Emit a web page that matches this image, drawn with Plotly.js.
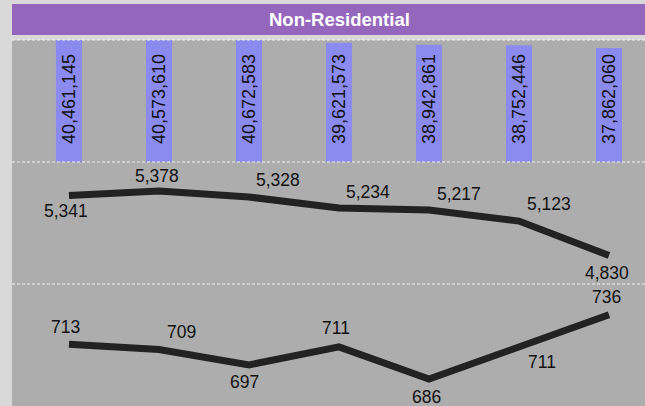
<!DOCTYPE html>
<html><head><meta charset="utf-8">
<script src="https://cdn.plot.ly/plotly-3.0.1.min.js"></script>
<style>html,body{margin:0;padding:0;background:#d9d9d9;}#chart{width:645px;height:406px;}</style>
</head><body><div id="chart"></div>
<script>
// ---- data ----
const categories = ['P1','P2','P3','P4','P5','P6','P7'];
const barValues = [40461145,40573610,40672583,39621573,38942861,38752446,37862060];
const midValues = [5341,5378,5328,5234,5217,5123,4830];
const lowValues = [713,709,697,711,686,711,736];
const chartTitle = 'Non-Residential';

// ---- label offsets (style) ----
const midShift = [[-3,-16],[-2,15],[29,17],[29,16],[30,16.5],[30,17],[-2,-18]];
const lowShift = [[-3,17.5],[23,17.5],[-4,-17],[-3,18.5],[-2,-18],[23,-15.5],[-3,18]];

const fmt = v => v.toLocaleString('en-US');
const FONT = 'Liberation Sans, Arial, sans-serif';

const traces = [
  {type:'bar', x:categories, y:barValues, xaxis:'x', yaxis:'y3',
   marker:{color:'#8b8bef'}, width:0.29, hoverinfo:'skip'},
  {type:'scatter', mode:'lines', x:categories, y:midValues, xaxis:'x', yaxis:'y2',
   line:{color:'#222222', width:7}, hoverinfo:'skip'},
  {type:'scatter', mode:'lines', x:categories, y:lowValues, xaxis:'x', yaxis:'y',
   line:{color:'#222222', width:7}, hoverinfo:'skip'}
];

const annotations = [];
categories.forEach((c,i)=>{
  annotations.push({x:c, xref:'x', y:0.516, yref:'y3 domain', text:fmt(barValues[i]),
    textangle:-90, showarrow:false, xanchor:'center', yanchor:'middle',
    font:{family:FONT, size:18, color:'#111'}});
  annotations.push({x:c, xref:'x', y:midValues[i], yref:'y2', text:fmt(midValues[i]),
    showarrow:false, xanchor:'center', yanchor:'middle', xshift:midShift[i][0], yshift:midShift[i][1],
    font:{family:FONT, size:17.5, color:'#111'}});
  annotations.push({x:c, xref:'x', y:lowValues[i], yref:'y', text:fmt(lowValues[i]),
    showarrow:false, xanchor:'center', yanchor:'middle', xshift:lowShift[i][0], yshift:lowShift[i][1],
    font:{family:FONT, size:17.5, color:'#111'}});
});
annotations.push({x:0.5166, xref:'paper', y:1.056, yref:'paper', text:'<b>'+chartTitle+'</b>',
  showarrow:false, xanchor:'center', yanchor:'middle', font:{family:FONT, size:18.5, color:'#ffffff'}});

const dash = {color:'#f2f2f2', width:1, dash:'3px,2px'};
const shapes = [
  {type:'rect', xref:'paper', yref:'paper', x0:0, x1:1, y0:1.0137, y1:1.0984,
   fillcolor:'#9467bd', line:{width:0}, layer:'above'},
  {type:'line', xref:'paper', yref:'paper', x0:0, x1:1, y0:1, y1:1, line:dash, layer:'above'},
  {type:'line', xref:'paper', yref:'paper', x0:0, x1:1, y0:2/3, y1:2/3, line:dash, layer:'above'},
  {type:'line', xref:'paper', yref:'paper', x0:0, x1:1, y0:1/3, y1:1/3, line:dash, layer:'above'}
];

const hiddenY = {showgrid:false, zeroline:false, showticklabels:false, ticks:'', showline:false, fixedrange:true};
const layout = {
  width:645, height:406,
  margin:{l:12, r:0, t:40, b:0, pad:0},
  paper_bgcolor:'#d9d9d9', plot_bgcolor:'#adadad',
  showlegend:false,
  xaxis:{type:'category', categoryarray:categories, range:[-0.633, 6.4], visible:false, fixedrange:true},
  yaxis:Object.assign({domain:[0,1/3], range:[665,760], anchor:'x'}, hiddenY),
  yaxis2:Object.assign({domain:[1/3,2/3], range:[4587,5626], anchor:'x'}, hiddenY),
  yaxis3:Object.assign({domain:[2/3,1], range:[0,40500000], anchor:'x'}, hiddenY),
  annotations:annotations,
  shapes:shapes,
  font:{family:FONT}
};

Plotly.newPlot('chart', traces, layout, {staticPlot:true, displayModeBar:false});
</script>
</body></html>
